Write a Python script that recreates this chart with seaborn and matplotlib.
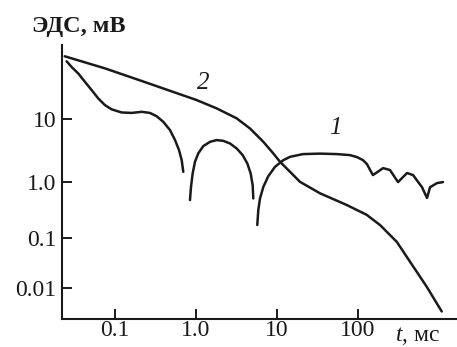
import numpy as np
import pandas as pd
import seaborn as sns
import matplotlib
matplotlib.use("Agg")
import matplotlib.pyplot as plt
from matplotlib.ticker import NullLocator

# curve 2: smooth decay
t2 = [0.024, 0.075, 0.235, 1.02, 1.8, 3.18, 4.64, 6.78, 9.0, 10.9, 14.5, 19.2, 34, 72.5,
      128, 187, 301, 482, 705, 1080]
e2 = [96, 62, 37.6, 19.6, 14.5, 10.1, 7.0, 4.31, 2.83, 2.09, 1.45, 1.01, 0.63, 0.39,
      0.26, 0.171, 0.084, 0.0267, 0.0106, 0.0034]

# curve 1: three branches (sign changes between them)
t1a = [0.0253, 0.0292, 0.0352, 0.0426, 0.0516, 0.0622, 0.0753, 0.091, 0.121, 0.161,
       0.214, 0.27, 0.327, 0.395, 0.478, 0.551, 0.617, 0.666, 0.697]
e1a = [80, 65, 51.5, 38, 28.1, 20.8, 16.3, 14.0, 12.5, 12.3,
       12.8, 12.3, 10.9, 8.9, 6.6, 4.6, 3.2, 2.22, 1.45]
t1b = [0.843, 0.868, 0.91, 0.972, 1.067, 1.23, 1.49, 1.8, 2.17, 2.63, 3.18, 3.77, 4.3,
       4.73, 5.01, 5.1]
e1b = [0.477, 0.82, 1.37, 2.09, 2.83, 3.69, 4.31, 4.59, 4.47, 4.06, 3.39, 2.66, 1.97,
       1.37, 0.88, 0.51]
t1c = [5.71, 5.88, 6.17, 6.78, 7.81, 9.45, 12.0, 14.5, 20.9, 34, 55, 79.6, 97, 115, 129,
       141, 153, 204, 248, 312, 403, 478, 617, 711, 775, 945, 1120]
e1c = [0.171, 0.316, 0.51, 0.82, 1.24, 1.74, 2.22, 2.5, 2.76, 2.81, 2.76, 2.66, 2.48, 2.22,
       1.92, 1.55, 1.29, 1.66, 1.55, 1.0, 1.39, 1.29, 0.81, 0.52, 0.81, 0.96, 1.0]

xticks = [0.1, 1, 10, 100]
xticklabels = ["0.1", "1.0", "10", "100"]
yticks = [0.01, 0.1, 1, 10]
yticklabels = ["0.01", "0.1", "1.0", "10"]

df = pd.concat([
    pd.DataFrame({"t": t2, "e": e2, "branch": "2"}),
    pd.DataFrame({"t": t1a, "e": e1a, "branch": "1a"}),
    pd.DataFrame({"t": t1b, "e": e1b, "branch": "1b"}),
    pd.DataFrame({"t": t1c, "e": e1c, "branch": "1c"}),
], ignore_index=True)

sns.set_theme(style="ticks")
plt.rcParams["font.family"] = ["Liberation Serif", "DejaVu Serif"]
plt.rcParams["mathtext.fontset"] = "custom"
plt.rcParams["mathtext.it"] = "Liberation Serif:italic"
plt.rcParams["mathtext.rm"] = "Liberation Serif"

ink = "#1a1a1a"

# the printed y axis has uneven decades, mimic it
YL = [-6, -2, -1, 0, 1, 5]
YP = [-200, 0, 50, 106, 169.5, 423.5]

def fwd(v):
    return np.interp(np.log10(np.maximum(v, 1e-12)), YL, YP)

def inv(p):
    return 10 ** np.interp(p, YP, YL)

fig = plt.figure(figsize=(4.57, 3.47), dpi=100)
ax = fig.add_axes([0.1357, 0.0807, 0.8643, 0.7893])

sns.lineplot(data=df, x="t", y="e", units="branch", estimator=None, sort=False,
             color=ink, lw=1.8, ax=ax)

ax.set_xscale("log")
ax.set_yscale("function", functions=(fwd, inv))
ax.set_xlim(0.0222, 1667)
ax.set_ylim(0.0024, 144)

ax.set_xticks(xticks)
ax.set_xticklabels(xticklabels)
ax.set_yticks(yticks)
ax.set_yticklabels(yticklabels)
ax.xaxis.set_minor_locator(NullLocator())
ax.yaxis.set_minor_locator(NullLocator())

sns.despine(ax=ax)
for s in ["left", "bottom"]:
    ax.spines[s].set_linewidth(1.5)
    ax.spines[s].set_color(ink)

ax.tick_params(axis="both", direction="in", length=7.5, width=1.4, color=ink,
               labelsize=17, labelcolor=ink)
ax.tick_params(axis="x", pad=1)
ax.tick_params(axis="y", pad=4)

ax.set_ylabel("")
ax.set_xlabel(r"$t$, мс", fontsize=17, color=ink, ha="center", va="baseline")
ax.xaxis.set_label_coords(0.899, -0.082)

fig.text(0.070, 0.908, "ЭДС, мВ", fontsize=17.5, fontweight="bold", color=ink,
         ha="left", va="baseline")

ax.text(1.22, 36, "2", fontsize=18, style="italic", color=ink, ha="center", va="center")
ax.text(52, 7.1, "1", fontsize=18, style="italic", color=ink, ha="center", va="center")

fig.savefig("out.png", dpi=100)
plt.close(fig)
